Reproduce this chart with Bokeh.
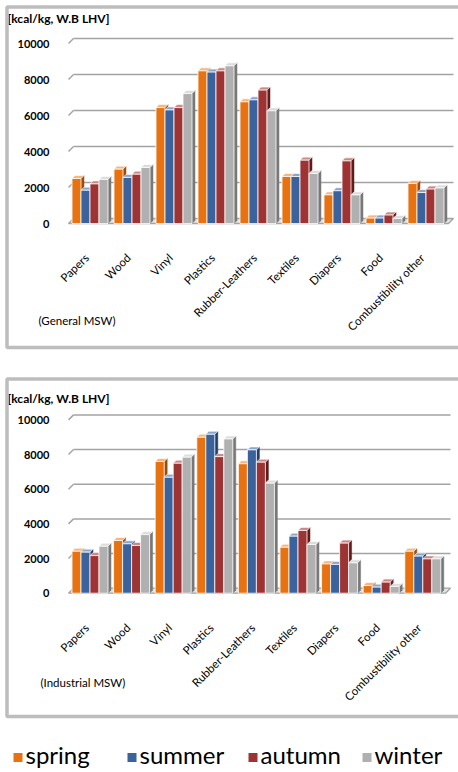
import numpy as np
from bokeh.plotting import figure
from bokeh.layouts import column
from bokeh.models import Range1d, FixedTicker, BoxAnnotation, Label
from bokeh.embed import file_html
from bokeh.resources import INLINE

# ---- data: lower heating value by waste component and season [kcal/kg] ----
categories = ["Papers", "Wood", "Vinyl", "Plastics", "Rubber-Leathers",
              "Textiles", "Diapers", "Food", "Combustibility other"]
seasons = ["spring", "summer", "autumn", "winter"]

general_spring = [2500, 3020, 6440, 8480, 6760, 2610, 1590, 300, 2220]
general_summer = [1850, 2560, 6310, 8410, 6870, 2610, 1820, 300, 1720]
general_autumn = [2200, 2740, 6440, 8480, 7410, 3520, 3480, 470, 1910]
general_winter = [2450, 3110, 7220, 8760, 6260, 2780, 1590, 280, 1970]

industrial_spring = [2420, 3040, 7600, 9000, 7470, 2650, 1690, 440, 2420]
industrial_summer = [2370, 2850, 6690, 9170, 8270, 3290, 1660, 350, 2140]
industrial_autumn = [2170, 2750, 7500, 7880, 7560, 3620, 2890, 640, 1980]
industrial_winter = [2710, 3380, 7850, 8900, 6350, 2810, 1750, 390, 1980]

y_ticks = [0, 2000, 4000, 6000, 8000, 10000]
unit_label = "[kcal/kg, W.B LHV]"

FRONT = ["#E8720F", "#3A629C", "#9D3433", "#B0B0B0"]
SIDE = ["#9E4C0C", "#223F66", "#5F1D1D", "#787878"]
TOP = ["#F5B680", "#86A6D2", "#CE8583", "#DCDCDC"]
GRID = "#A3A3A3"
BORDER = "#BDBDBD"
FONT = "Lato"
W = 458
AXIS_X = 64           # pixel column of the value axis
LABEL_SHIFT_PX = 5    # pulls rotated category names back under their columns


def panel(caption, series, height, axis_y, grid_right, px_zero, px_top,
          px_cat0, px_pitch, title_y, caption_xy, box_bottom):
    ppy = (px_zero - px_top) / 10000.0          # pixels per kcal/kg

    def xpx(px):
        return (px - px_cat0) / px_pitch

    def ypx(px):
        return (px_zero - px) / ppy

    # the plotting frame spans the whole panel; axes are pinned inside it
    p = figure(width=W, height=height, output_backend="svg",
               toolbar_location=None, title=None,
               x_range=Range1d(xpx(0), xpx(W)),
               y_range=Range1d(ypx(height), ypx(0)),
               min_border=0, min_border_left=0, min_border_right=0,
               min_border_top=0, min_border_bottom=0)
    p.xgrid.visible = False
    p.ygrid.visible = False
    p.outline_line_color = None
    p.background_fill_color = "white"
    p.border_fill_color = "white"

    x_end = xpx(grid_right)
    # back wall gridlines with a short perspective slant on the left
    wall_dy = 5 / ppy
    wx0 = xpx(68)
    wx1 = wx0 + 5 / px_pitch
    grid_vals = np.array(y_ticks[1:], dtype=float)
    p.segment(x0=[wx0] * len(grid_vals), y0=grid_vals,
              x1=[wx1] * len(grid_vals), y1=grid_vals + wall_dy,
              line_color=GRID, line_width=1.5)
    p.segment(x0=[wx1] * len(grid_vals), y0=grid_vals + wall_dy,
              x1=[x_end] * len(grid_vals), y1=grid_vals + wall_dy,
              line_color=GRID, line_width=1.5)
    # floor plane
    p.patch(x=[wx0, wx1, x_end, x_end - 5 / px_pitch],
            y=[0, wall_dy, wall_dy, 0],
            fill_color="#E3E5EA", line_color=GRID, line_width=1.3)

    # 3-D style clustered columns
    bw = 9 / px_pitch
    ddx = 3 / px_pitch
    ddy = 3 / ppy
    idx = np.arange(len(categories), dtype=float)
    for j, vals in enumerate(series):
        v = np.array(vals, dtype=float)
        L = idx - 2 * bw - ddx / 2 + j * bw
        R = L + bw
        side_xs = [[r, r + ddx, r + ddx, r] for r in R]
        side_ys = [[0, ddy, h + ddy, h] for h in v]
        top_xs = [[l, l + ddx, r + ddx, r] for l, r in zip(L, R)]
        top_ys = [[h, h + ddy, h + ddy, h] for h in v]
        p.patches(xs=side_xs, ys=side_ys, fill_color=SIDE[j],
                  line_color=SIDE[j], line_width=0.5)
        p.patches(xs=top_xs, ys=top_ys, fill_color=TOP[j],
                  line_color="white", line_width=0.6)
        p.quad(left=L, right=R, bottom=0, top=v, fill_color=FRONT[j],
               line_color="white", line_width=0.8)

    # value axis
    yax = p.yaxis[0]
    yax.fixed_location = xpx(AXIS_X)
    yax.ticker = FixedTicker(ticks=y_ticks)
    yax.axis_line_color = None
    yax.major_tick_line_color = None
    yax.minor_tick_line_color = None
    yax.major_label_standoff = 9
    yax.major_label_text_font = FONT
    yax.major_label_text_font_style = "bold"
    yax.major_label_text_font_size = "11px"
    yax.major_label_text_color = "black"

    # category axis: names rotated 45 degrees, ending under each cluster
    shift = LABEL_SHIFT_PX / px_pitch
    cat_ticks = [round(i - shift, 4) for i in range(len(categories))]
    xax = p.xaxis[0]
    xax.fixed_location = ypx(axis_y)
    xax.ticker = FixedTicker(ticks=cat_ticks)
    xax.major_label_overrides = {t: c for t, c in zip(cat_ticks, categories)}
    xax.major_label_orientation = np.pi / 4
    xax.axis_line_color = None
    xax.major_tick_line_color = None
    xax.minor_tick_line_color = None
    xax.major_label_standoff = 17
    xax.major_label_text_font = FONT
    xax.major_label_text_font_size = "11.5px"
    xax.major_label_text_color = "black"

    # unit caption
    p.add_layout(Label(x=xpx(7), y=ypx(title_y), text=unit_label,
                       text_font=FONT, text_font_style="bold",
                       text_font_size="12px", text_color="black",
                       text_baseline="middle"))

    # dataset caption in the lower-left corner
    p.add_layout(Label(x=xpx(caption_xy[0]), y=ypx(caption_xy[1]), text=caption,
                       text_font=FONT, text_font_size="11.5px",
                       text_color="black", text_baseline="middle"))

    # panel frame (its right edge runs past the page)
    p.add_layout(BoxAnnotation(left=xpx(6.5), right=xpx(W + 6),
                               top=ypx(6.5), bottom=ypx(box_bottom),
                               fill_alpha=0, line_color=BORDER,
                               line_width=3.5, line_alpha=1))
    return p


p1 = panel("(General MSW)",
           [general_spring, general_summer, general_autumn, general_winter],
           height=372, axis_y=232, grid_right=453,
           px_zero=223, px_top=43, px_cat0=91, px_pitch=42.0,
           title_y=18, caption_xy=(38, 320), box_bottom=347)

p2 = panel("(Industrial MSW)",
           [industrial_spring, industrial_summer, industrial_autumn, industrial_winter],
           height=358, axis_y=230, grid_right=450,
           px_zero=220.7, px_top=47.4, px_cat0=91, px_pitch=41.6,
           title_y=26, caption_xy=(40, 310), box_bottom=344)

# season key: coloured squares followed by the season names
LH = 42
key_x = np.array([13, 127, 248, 362], dtype=float)
leg = figure(width=W, height=LH, output_backend="svg", toolbar_location=None,
             title=None, x_range=Range1d(0, W), y_range=Range1d(0, LH),
             min_border=0, min_border_left=0, min_border_right=0,
             min_border_top=0, min_border_bottom=0,
             x_axis_type=None, y_axis_type=None)
leg.outline_line_color = None
leg.xgrid.visible = False
leg.ygrid.visible = False
leg.quad(left=key_x, right=key_x + 9, bottom=[10.5] * 4, top=[19.5] * 4,
         fill_color=FRONT, line_color=None)
leg.text(x=key_x + 12, y=[18] * 4, text=seasons, text_font={"value": FONT},
         text_font_size="24px", text_color="black", text_baseline="middle")

page = column(p1, p2, leg, spacing=0)
open("out.html", "w").write(file_html(page, INLINE))
